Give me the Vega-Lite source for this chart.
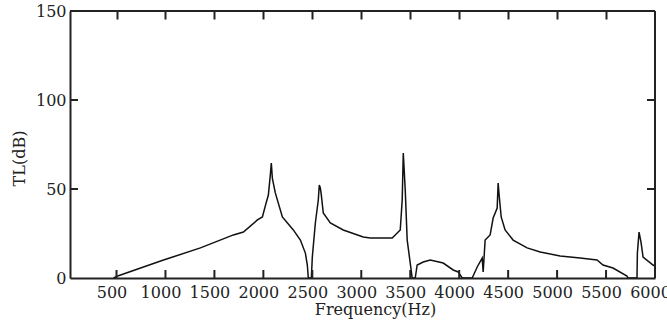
{
  "$schema": "https://vega.github.io/schema/vega-lite/v6.json",
  "autosize": "none",
  "padding": {"left": 70, "top": 11, "right": 12, "bottom": 54},
  "width": 585,
  "height": 267,
  "background": "white",
  "config": {
    "axis": {
      "labelFont": "DejaVu Serif", "labelFontSize": 16, "labelColor": "#222",
      "titleFont": "DejaVu Serif", "titleFontSize": 16, "titleFontWeight": "normal", "titleColor": "#222",
      "domainColor": "#222", "domainWidth": 2, "tickColor": "#222", "tickWidth": 2, "tickSize": 8,
      "grid": false, "labelBound": false, "labelOverlap": false, "labelFlush": false
    }
  },
  "datasets": {
    "xticks": [{"t": 500}, {"t": 1000}, {"t": 1500}, {"t": 2000}, {"t": 2500}, {"t": 3000}, {"t": 3500}, {"t": 4000}, {"t": 4500}, {"t": 5000}, {"t": 5500}],
    "yticks": [{"v": 50}, {"v": 100}]
  },
  "data": {"values": [
    {"f": 470, "tl": 0}, {"f": 520, "tl": 1.3}, {"f": 980, "tl": 10.1}, {"f": 1357, "tl": 16.9},
    {"f": 1694, "tl": 24.2}, {"f": 1796, "tl": 25.8}, {"f": 1939, "tl": 32.6}, {"f": 1990, "tl": 34.3},
    {"f": 2020, "tl": 40.5}, {"f": 2051, "tl": 46.6}, {"f": 2071, "tl": 57.9}, {"f": 2081, "tl": 64.6},
    {"f": 2092, "tl": 56}, {"f": 2122, "tl": 47.8}, {"f": 2194, "tl": 34.3}, {"f": 2306, "tl": 27},
    {"f": 2378, "tl": 21.3}, {"f": 2429, "tl": 14}, {"f": 2449, "tl": 7.3}, {"f": 2459, "tl": 0},
    {"f": 2490, "tl": 0}, {"f": 2500, "tl": 11.8}, {"f": 2531, "tl": 30.9}, {"f": 2561, "tl": 43.8},
    {"f": 2571, "tl": 52.2}, {"f": 2582, "tl": 50.6}, {"f": 2592, "tl": 46.6}, {"f": 2612, "tl": 36.5},
    {"f": 2684, "tl": 30.9}, {"f": 2816, "tl": 27}, {"f": 3020, "tl": 23}, {"f": 3092, "tl": 22.5},
    {"f": 3316, "tl": 22.5}, {"f": 3398, "tl": 27}, {"f": 3418, "tl": 43.8}, {"f": 3429, "tl": 70.2},
    {"f": 3449, "tl": 49.4}, {"f": 3469, "tl": 21.3}, {"f": 3500, "tl": 8.4}, {"f": 3520, "tl": 0},
    {"f": 3551, "tl": 0}, {"f": 3571, "tl": 7.3}, {"f": 3633, "tl": 9}, {"f": 3704, "tl": 10.1},
    {"f": 3837, "tl": 8.4}, {"f": 3939, "tl": 4.5}, {"f": 3990, "tl": 3.4}, {"f": 4031, "tl": 0},
    {"f": 4133, "tl": 0}, {"f": 4184, "tl": 6.2}, {"f": 4235, "tl": 11.2}, {"f": 4245, "tl": 3.4},
    {"f": 4265, "tl": 21.3}, {"f": 4316, "tl": 24.2}, {"f": 4347, "tl": 33.7}, {"f": 4388, "tl": 39.3},
    {"f": 4398, "tl": 53.4}, {"f": 4408, "tl": 46.6}, {"f": 4429, "tl": 34.3}, {"f": 4469, "tl": 27},
    {"f": 4551, "tl": 21.3}, {"f": 4694, "tl": 16.9}, {"f": 4827, "tl": 14.6}, {"f": 5031, "tl": 12.4},
    {"f": 5235, "tl": 11.2}, {"f": 5408, "tl": 10.1}, {"f": 5469, "tl": 7.3}, {"f": 5571, "tl": 5.6},
    {"f": 5714, "tl": 1.1}, {"f": 5724, "tl": 0}, {"f": 5816, "tl": 0}, {"f": 5820, "tl": 14},
    {"f": 5837, "tl": 25.8}, {"f": 5857, "tl": 20.2}, {"f": 5878, "tl": 11.8}, {"f": 5980, "tl": 7.3},
    {"f": 6000, "tl": 6.7}
  ]},
  "layer": [
    {
      "mark": {"type": "line", "color": "#111", "strokeWidth": 1.5, "clip": true},
      "encoding": {
        "x": {"field": "f", "type": "quantitative", "scale": {"domain": [25, 6000], "nice": false, "zero": false},
          "axis": {"orient": "bottom", "title": "Frequency(Hz)", "format": "d", "values": [500, 1000, 1500, 2000, 2500, 3000, 3500, 4000, 4500, 5000, 5500, 6000],
            "ticks": false, "labelPadding": 6, "labelOffset": -5,
            "titleX": 305, "titleY": 36, "titleBaseline": "alphabetic", "titleAnchor": null}},
        "y": {"field": "tl", "type": "quantitative", "scale": {"domain": [0, 150], "nice": false},
          "axis": {"orient": "left", "title": "TL(dB)", "format": "d", "values": [0, 50, 100, 150], "ticks": false, "labelPadding": 4,
            "labelBaseline": "middle", "titleX": -51, "titleY": 147, "titleAngle": -90, "titleBaseline": "middle"}}
      }
    },
    {
      "mark": {"type": "line", "strokeOpacity": 0},
      "encoding": {
        "x": {"field": "f", "type": "quantitative",
          "axis": {"orient": "top", "offset": -8, "title": null, "labels": true, "labelColor": "transparent", "domain": false, "values": [500, 1000, 1500, 2000, 2500, 3000, 3500, 4000, 4500, 5000, 5500]}},
        "y": {"field": "tl", "type": "quantitative", "axis": null}
      }
    },
    {
      "data": {"name": "xticks"},
      "mark": {"type": "rule", "color": "#222", "strokeWidth": 2},
      "encoding": {
        "x": {"field": "t", "type": "quantitative", "axis": null},
        "y": {"datum": 0, "type": "quantitative", "axis": null},
        "y2": {"datum": 4.5}
      }
    },
    {
      "data": {"name": "yticks"},
      "mark": {"type": "rule", "color": "#222", "strokeWidth": 2},
      "encoding": {
        "y": {"field": "v", "type": "quantitative", "axis": null},
        "x": {"datum": 25, "type": "quantitative", "axis": null},
        "x2": {"datum": 107}
      }
    },
    {
      "data": {"name": "yticks"},
      "mark": {"type": "rule", "color": "#222", "strokeWidth": 2},
      "encoding": {
        "y": {"field": "v", "type": "quantitative", "axis": null},
        "x": {"datum": 5918, "type": "quantitative", "axis": null},
        "x2": {"datum": 6000}
      }
    },
    {
      "mark": {"type": "rule", "color": "#222", "strokeWidth": 2},
      "encoding": {"x": {"datum": 6000, "type": "quantitative", "axis": null}}
    },
    {
      "mark": {"type": "rule", "color": "#222", "strokeWidth": 2},
      "encoding": {"y": {"datum": 150, "type": "quantitative", "axis": null}}
    }
  ],
  "resolve": {"axis": {"x": "independent", "y": "independent"}}
}
